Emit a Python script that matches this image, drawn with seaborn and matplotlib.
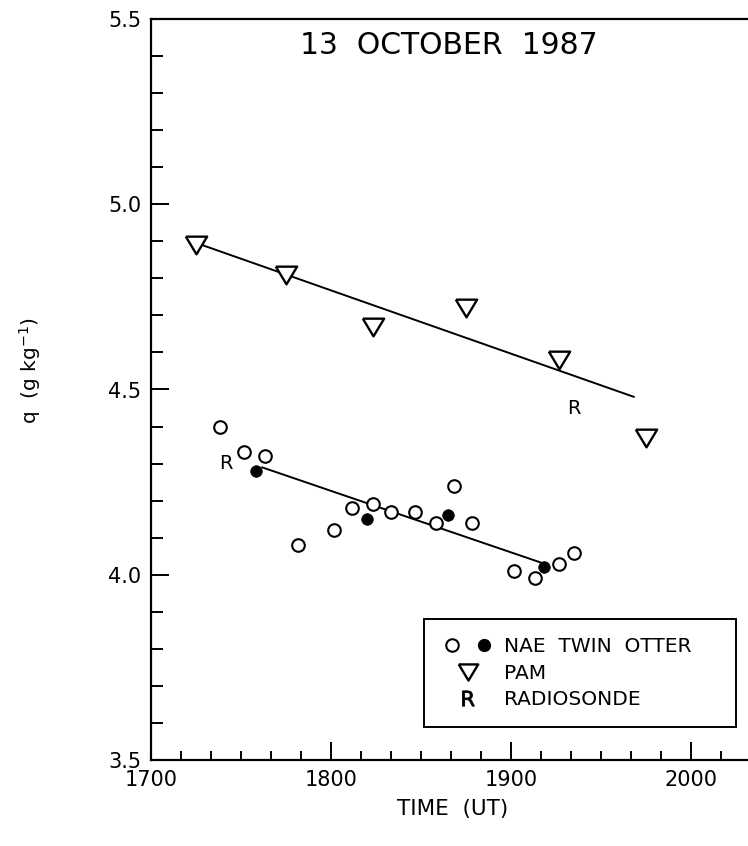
import numpy as np
import pandas as pd
import matplotlib
matplotlib.use("Agg")
import matplotlib.pyplot as plt
import seaborn as sns
from matplotlib.ticker import MultipleLocator, FuncFormatter, FormatStrFormatter
from matplotlib.lines import Line2D
from matplotlib.legend_handler import HandlerTuple

# ---- data (time in HHMM UT, q in g/kg) ----
otter_open_time = [1723, 1731, 1738, 1749, 1801, 1807, 1814, 1820, 1828, 1835, 1841, 1847, 1901, 1908, 1916, 1921]
otter_open_q = [4.40, 4.33, 4.32, 4.08, 4.12, 4.18, 4.19, 4.17, 4.17, 4.14, 4.24, 4.14, 4.01, 3.99, 4.03, 4.06]
otter_fill_time = [1735, 1812, 1839, 1911]
otter_fill_q = [4.28, 4.15, 4.16, 4.02]
otter_fit_time = [1737, 1911]
otter_fit_q = [4.29, 4.03]

pam_time = [1715, 1745, 1814, 1845, 1916, 1945]
pam_q = [4.89, 4.81, 4.67, 4.72, 4.58, 4.37]
pam_fit_time = [1717, 1941]
pam_fit_q = [4.89, 4.48]

radiosonde_time = [1725, 1921]
radiosonde_q = [4.30, 4.45]

title = "13  OCTOBER  1987"
xlabel = "TIME  (UT)"
ylabel = r"q  (g kg$^{-1}$)"
legend_labels = ["NAE  TWIN  OTTER", "PAM", "RADIOSONDE"]


def to_hours(hhmm):
    return np.array([t // 100 + (t % 100) / 60.0 for t in hhmm])


sns.set_style("ticks")
plt.rcParams['font.family'] = ['DejaVu Sans']
plt.rcParams['mathtext.default'] = 'regular'
plt.rcParams['text.color'] = 'black'
plt.rcParams['axes.labelcolor'] = 'black'
plt.rcParams['xtick.color'] = 'black'
plt.rcParams['ytick.color'] = 'black'

fig = plt.figure(figsize=(7.48, 8.46), dpi=100)
ax = fig.add_axes([151 / 748, 86 / 846, 630 / 748, 741 / 846])

tri = [(-1.0, 0.83), (1.0, 0.83), (0.0, -0.83), (-1.0, 0.83)]

# fit lines
sns.lineplot(x=to_hours(pam_fit_time), y=pam_fit_q, color='black', linewidth=1.4,
             legend=False, ax=ax)
sns.lineplot(x=to_hours(otter_fit_time), y=otter_fit_q, color='black', linewidth=1.4,
             legend=False, ax=ax)

# PAM triangles
sns.scatterplot(x=to_hours(pam_time), y=pam_q, marker=tri, s=235, color='white',
                edgecolor='black', linewidth=1.7, legend=False, ax=ax, zorder=3)
# Twin Otter open / filled circles
sns.scatterplot(x=to_hours(otter_open_time), y=otter_open_q, marker='o', s=82, color='white',
                edgecolor='black', linewidth=1.5, legend=False, ax=ax, zorder=3)
sns.scatterplot(x=to_hours(otter_fill_time), y=otter_fill_q, marker='o', s=70, color='black',
                edgecolor='black', linewidth=0.5, legend=False, ax=ax, zorder=4)

# radiosonde "R"
for t, q in zip(to_hours(radiosonde_time), radiosonde_q):
    ax.text(t, q, "R", ha='center', va='center', fontsize=14, color='black')

ax.set_xlim(17.0, 20.5)
ax.set_ylim(3.5, 5.5)

ax.xaxis.set_major_locator(MultipleLocator(1.0))
ax.xaxis.set_minor_locator(MultipleLocator(1.0 / 6.0))
ax.xaxis.set_major_formatter(FuncFormatter(lambda v, p: f"{int(round(v))}00"))
ax.yaxis.set_major_locator(MultipleLocator(0.5))
ax.yaxis.set_minor_locator(MultipleLocator(0.1))
ax.yaxis.set_major_formatter(FormatStrFormatter('%.1f'))

ax.tick_params(which='both', direction='in', top=False, right=False, width=1.4,
               colors='black', labelsize=15)
ax.tick_params(axis='x', which='major', length=13, pad=7)
ax.tick_params(axis='x', which='minor', length=6.8)
ax.tick_params(axis='y', which='major', length=13, pad=7)
ax.tick_params(axis='y', which='minor', length=8.6)

for side in ['left', 'bottom', 'top']:
    ax.spines[side].set_linewidth(1.6)
    ax.spines[side].set_color('black')
ax.spines['right'].set_visible(False)

ax.text(0.473, 0.9636, title, transform=ax.transAxes, ha='center', va='center',
        fontsize=21.5, color='black')

ax.set_xlabel(xlabel, fontsize=15.5, color='black')
ax.xaxis.set_label_coords(0.479, -0.052)
ax.xaxis.label.set_va('top')
ax.set_ylabel(ylabel, fontsize=14.5, color='black')
ax.yaxis.set_label_coords(-0.192, 0.526)
ax.yaxis.label.set_va('center')

# legend
h_otter = (Line2D([], [], marker='o', ls='', mfc='white', mec='black', mew=1.5, ms=9),
           Line2D([], [], marker='o', ls='', mfc='black', mec='black', ms=8.5))
h_pam = Line2D([], [], marker=tri, ls='', mfc='white', mec='black', mew=1.7, ms=14)
h_r = Line2D([], [], marker=r'$\mathrm{R}$', ls='', color='black', mew=0.6, ms=11)
leg = ax.legend([h_otter, h_pam, h_r], legend_labels,
                handler_map={tuple: HandlerTuple(ndivide=None, pad=0.5)},
                loc='upper left', bbox_to_anchor=(0.433, 0.190, 0.495, 0.0),
                mode='expand', fontsize=14.5, frameon=True, fancybox=False,
                edgecolor='black', framealpha=1.0, borderpad=0.9,
                labelspacing=0.36, handlelength=2.6, handletextpad=0.5,
                borderaxespad=0.0, labelcolor='black')
leg.get_frame().set_linewidth(1.4)

fig.savefig("out.png", dpi=100, facecolor='white')
